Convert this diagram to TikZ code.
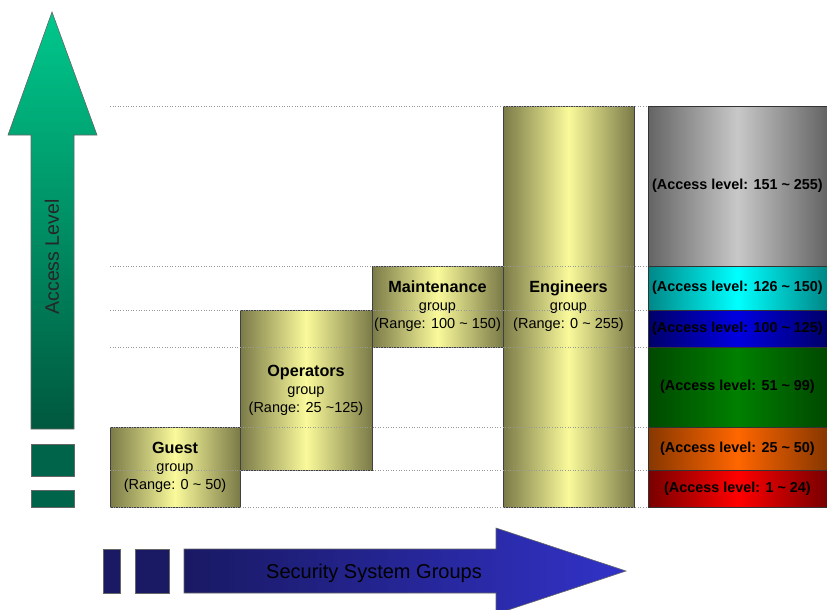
\documentclass[tikz,border=0pt]{standalone}
\usepackage{fontspec}
\setmainfont{Liberation Sans}
\usetikzlibrary{shadings}
\definecolor{oliveD}{RGB}{122,122,72}
\definecolor{oliveL}{RGB}{250,250,155}
\definecolor{grayD}{RGB}{100,100,100}
\definecolor{grayL}{RGB}{200,200,200}
\definecolor{cyanD}{RGB}{0,135,135}
\definecolor{cyanL}{RGB}{0,255,255}
\definecolor{blueD}{RGB}{0,0,105}
\definecolor{blueL}{RGB}{0,0,225}
\definecolor{greenD}{RGB}{0,72,0}
\definecolor{greenL}{RGB}{0,128,0}
\definecolor{orangeD}{RGB}{135,55,0}
\definecolor{orangeL}{RGB}{255,102,0}
\definecolor{redD}{RGB}{120,0,0}
\definecolor{redL}{RGB}{255,0,0}
\definecolor{tealL}{RGB}{0,200,140}
\definecolor{tealD}{RGB}{0,88,62}
\definecolor{tealR}{RGB}{0,100,75}
\definecolor{navyD}{RGB}{25,25,100}
\definecolor{navyL}{RGB}{50,50,200}
\begin{document}
\begin{tikzpicture}[x=1pt,y=-1pt,
  grp/.style={draw=black!75, line width=0.7pt, inner sep=0pt, align=center,
    left color=oliveD, right color=oliveD, middle color=oliveL,
    font=\fontsize{14.5}{18}\selectfont},
  lvl/.style={draw=black!80, line width=0.7pt, inner sep=0pt, minimum width=179pt,
    font=\bfseries\fontsize{14.4}{16}\selectfont},
  guide/.style={gray!80, dotted, line width=0.6pt},
  outl/.style={draw=black!60, line width=0.6pt}
]
\useasboundingbox (0,0) rectangle (827,610);

% green vertical arrow
\draw[outl, top color=tealL, bottom color=tealD]
  (52,12) -- (97,135) -- (74,135) -- (74,429) -- (31,429) -- (31,135) -- (8,135) -- cycle;
\node[rotate=90, font=\fontsize{19.5}{22}\selectfont, text=black!85] (acclvl) at (52,257) {Access Level};
\node[outl, fill=tealR, inner sep=0pt, minimum width=43pt, minimum height=32pt] (g1) at (52.5,460) {};
\node[outl, fill=tealR, inner sep=0pt, minimum width=43pt, minimum height=17pt] (g2) at (52.5,498.5) {};

% blue horizontal arrow
\draw[outl, left color=navyD, right color=navyL]
  (184,549) -- (496,549) -- (496,528) -- (626,571) -- (496,614) -- (496,593) -- (184,593) -- cycle;
\node[font=\fontsize{20}{24}\selectfont, text=black] (ssg) at (374,573) {Security System Groups};
\node[outl, fill=navyD, inner sep=0pt, minimum width=17pt, minimum height=44pt] (n1) at (111.5,571) {};
\node[outl, fill=navyD, inner sep=0pt, minimum width=34pt, minimum height=44pt] (n2) at (152,571) {};

% group boxes
\node[grp, minimum width=130pt, minimum height=80pt] (guest) at (175,467)
  {{\bfseries\fontsize{16.2}{18}\selectfont Guest}\\group\\(Range: 0 \textasciitilde{} 50)};
\node[grp, minimum width=132pt, minimum height=160pt] (oper) at (306,390)
  {{\bfseries\fontsize{16.2}{18}\selectfont Operators}\\group\\(Range: 25 \textasciitilde125)};
\node[grp, minimum width=131pt, minimum height=81pt] (maint) at (437.5,306.5)
  {{\bfseries\fontsize{16.2}{18}\selectfont Maintenance}\\group\\(Range: 100 \textasciitilde{} 150)};
\node[grp, minimum width=131pt, minimum height=401pt] (eng) at (568.5,306.5)
  {{\bfseries\fontsize{16.2}{18}\selectfont Engineers}\\group\\(Range: 0 \textasciitilde{} 255)};

% access level bars
\node[lvl, minimum height=160pt, left color=grayD, right color=grayD, middle color=grayL] (b6) at (737.5,186) {(Access level: 151 \textasciitilde{} 255)};
\node[lvl, minimum height=44pt, left color=cyanD, right color=cyanD, middle color=cyanL] (b5) at (737.5,288) {(Access level: 126 \textasciitilde{} 150)};
\node[lvl, minimum height=37pt, left color=blueD, right color=blueD, middle color=blueL] (b4) at (737.5,328.5) {(Access level: 100 \textasciitilde{} 125)};
\node[lvl, minimum height=80pt, left color=greenD, right color=greenD, middle color=greenL] (b3) at (737.5,387) {(Access level: 51 \textasciitilde{} 99)};
\node[lvl, minimum height=43pt, left color=orangeD, right color=orangeD, middle color=orangeL] (b2) at (737.5,448.5) {(Access level: 25 \textasciitilde{} 50)};
\node[lvl, minimum height=37pt, left color=redD, right color=redD, middle color=redL] (b1) at (737.5,488.5) {(Access level: 1 \textasciitilde{} 24)};

% dotted guide lines
\foreach \yy in {106,266,310,347,427,470,507}
  \draw[guide] (110,\yy) -- (648,\yy);
\end{tikzpicture}
\end{document}
